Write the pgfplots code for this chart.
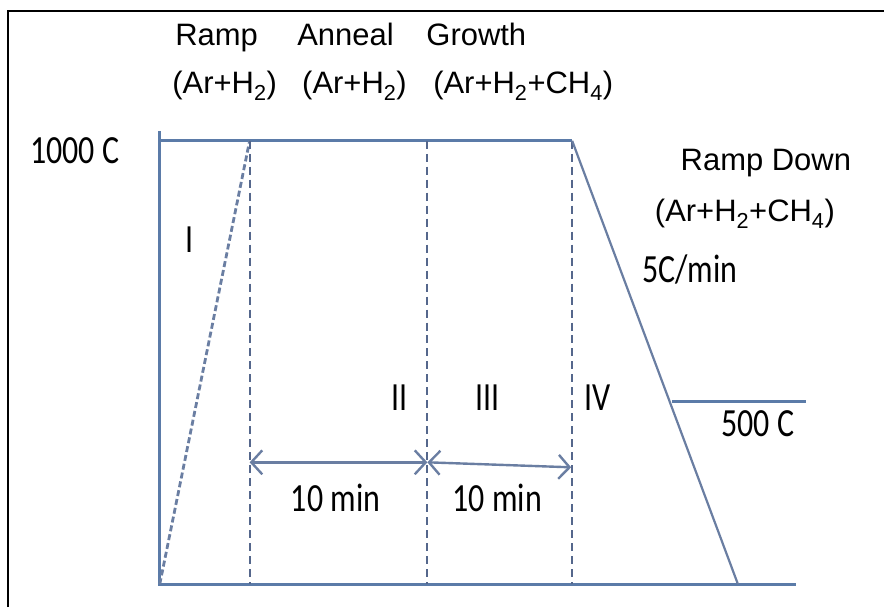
\documentclass[border=0pt]{standalone}
\usepackage{pgfplots}
\pgfplotsset{compat=1.18}
\usepackage{fontspec}
\setmainfont{Liberation Sans}
\newfontfamily\calib{Carlito}
\usetikzlibrary{arrows.meta}
\definecolor{axisblue}{HTML}{5B7BA8}
\definecolor{lineblue}{HTML}{6A7EA2}
\definecolor{dashblue}{HTML}{55678C}
\begin{document}
\begin{tikzpicture}
\begin{axis}[x=1pt,y=1pt,xmin=0,xmax=885,ymin=0,ymax=608,hide axis,clip=false]
\addplot[draw=none] coordinates {(0,0) (885,608)};
% outer frame
\addplot[black,line width=2.6pt] coordinates {(8,0) (8,597) (885,597)};
% axes
\addplot[axisblue,line width=3pt] coordinates {(160,477) (160,23) (797,23)};
\addplot[axisblue,line width=3pt] coordinates {(160,467) (573,467)};
% ramp up
\addplot[lineblue,line width=2.8pt,dash pattern=on 6pt off 3pt] coordinates {(160,23) (250,467)};
% dashed verticals
\addplot[dashblue,line width=1.8pt,dash pattern=on 8pt off 5pt] coordinates {(250,467) (250,23)};
\addplot[dashblue,line width=1.8pt,dash pattern=on 8pt off 5pt] coordinates {(428,467) (428,23)};
\addplot[dashblue,line width=1.8pt,dash pattern=on 8pt off 5pt] coordinates {(573,467) (573,23)};
% ramp down
\addplot[lineblue,line width=2.2pt] coordinates {(573,467) (739,23)};
% 500 C level
\addplot[axisblue,line width=2.4pt] coordinates {(673,206) (807,206)};
% arrows
\addplot[lineblue,line width=2.4pt,arrows={Straight Barb[length=11pt,width=24pt,line width=2.4pt]-Straight Barb[length=11pt,width=24pt,line width=2.4pt]}] coordinates {(250,145) (428,145)};
\addplot[lineblue,line width=2.4pt,arrows={Straight Barb[length=11pt,width=24pt,line width=2.4pt]-Straight Barb[length=11pt,width=24pt,line width=2.4pt]}] coordinates {(428,145) (572,140)};
% labels (Arial-like)
\tikzset{lab/.style={font=\fontsize{31}{33}\selectfont,inner sep=0pt,anchor=base}}
\node[lab] at (axis cs:217,562) {Ramp};
\node[lab] at (axis cs:346,562) {Anneal};
\node[lab] at (axis cs:477,562) {Growth};
\node[lab] at (axis cs:225,514) {(Ar+H\textsubscript{2})};
\node[lab] at (axis cs:355,514) {(Ar+H\textsubscript{2})};
\node[lab] at (axis cs:524,514) {(Ar+H\textsubscript{2}+CH\textsubscript{4})};
\node[lab] at (axis cs:767,437) {Ramp Down};
\node[lab] at (axis cs:746,386) {(Ar+H\textsubscript{2}+CH\textsubscript{4})};
% labels (Calibri-like)
\tikzset{cal/.style={font=\calib\fontsize{32}{34}\selectfont,inner sep=0pt,anchor=base,yscale=1.25}}
\node[cal] at (axis cs:75,444) {1000 C};
\node[cal] at (axis cs:759,171) {500 C};
\node[cal] at (axis cs:691,325) {5C/min};
\node[cal] at (axis cs:190,355) {I};
\node[cal] at (axis cs:400,197) {II};
\node[cal] at (axis cs:488,197) {III};
\node[cal] at (axis cs:598,197) {IV};
\node[cal] at (axis cs:336,96) {10 min};
\node[cal] at (axis cs:498,96) {10 min};
\end{axis}
\end{tikzpicture}
\end{document}
